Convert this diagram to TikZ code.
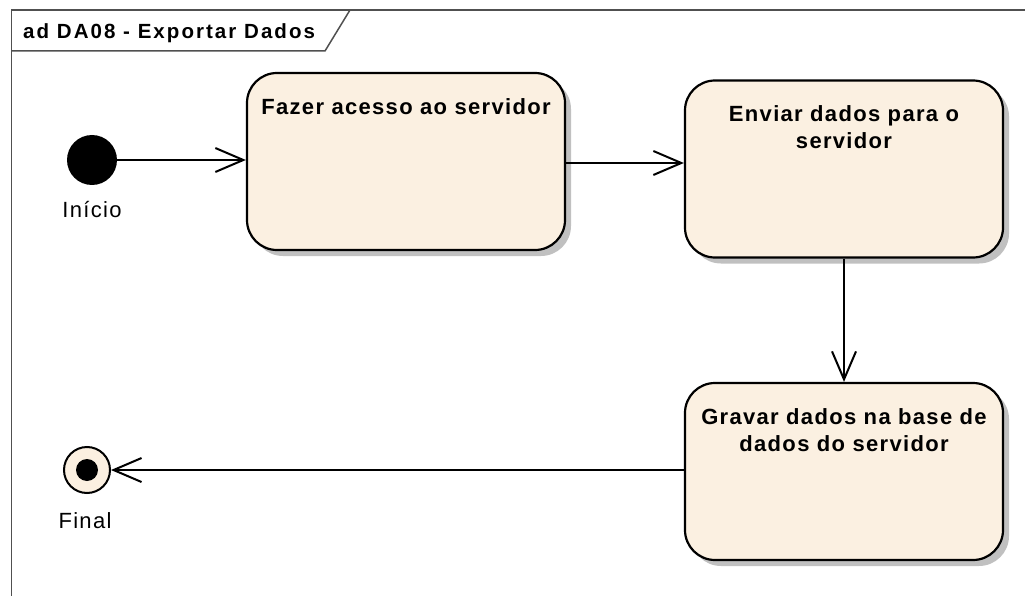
\documentclass[tikz,border=0pt]{standalone}
\usepackage{fontspec}
\setmainfont{Liberation Sans}
\newfontfamily\boxfont[LetterSpace=6]{Liberation Sans}
\newfontfamily\titlefont[LetterSpace=10]{Liberation Sans}
\usetikzlibrary{arrows.meta,shadows,calc}
\definecolor{cream}{RGB}{251,240,225}
\definecolor{shadowgray}{RGB}{192,192,192}
\definecolor{framec}{RGB}{80,80,80}
\begin{document}
\begin{tikzpicture}[x=1pt,y=-1pt,
  activity/.style={draw=black, line width=2.2pt, fill=cream, rounded corners=30pt,
    minimum width=318pt, minimum height=177pt, inner sep=0pt,
    drop shadow={shadow xshift=6pt, shadow yshift=-6pt, fill=shadowgray, opacity=1}},
  boxtext/.style={font=\boxfont\bfseries\fontsize{22}{27}\selectfont, align=center, anchor=north, inner sep=0pt},
  plainlabel/.style={font=\boxfont\fontsize{22}{26}\selectfont, anchor=base, inner sep=0pt},
  flow/.style={line width=2pt, -{Straight Barb[length=28pt,width=24pt]}},
  framestyle/.style={draw=framec, line width=1.5pt}
]
\useasboundingbox (0,0) rectangle (1025,596);
% frame
\draw[framestyle] (11.5,596) -- (11.5,10) -- (1025,10);
\draw[framestyle] (11.5,51) -- (325,51) -- (350,10);
\node[font=\titlefont\bfseries\fontsize{20.5}{24}\selectfont, anchor=base west, inner sep=0pt] (title) at (23,39) {ad DA08 - Exportar Dados};
% activities
\node[activity] (b1) at (406,161.5) {};
\node[activity] (b2) at (844,169) {};
\node[activity] (b3) at (844,471.5) {};
\node[boxtext] (b1t) at ($(b1.north)+(0,26)$) {Fazer acesso ao servidor};
\node[boxtext] (b2t) at ($(b2.north)+(0,26)$) {Enviar dados para o\\servidor};
\node[boxtext] (b3t) at ($(b3.north)+(0,26)$) {Gravar dados na base de\\dados do servidor};
% initial / final
\node[circle, fill=black, minimum size=50pt, inner sep=0pt] (init) at (92,160) {};
\node[plainlabel] (initl) at (92,218) {Início};
\node[circle, draw=black, line width=2pt, fill=cream, minimum size=46pt, inner sep=0pt] (fin) at (87,470) {};
\node[circle, fill=black, minimum size=22pt, inner sep=0pt] (find) at (fin) {};
\node[plainlabel] (finl) at (85,528) {Final};
% flows
\draw[flow] (init) -- (init -| b1.west);
\draw[flow] (b1.east |- 0,163) -- (b2.west |- 0,163);
\draw[flow] (b2.south) -- (b3.north);
\draw[flow] (b3.west |- fin) -- (fin);
\end{tikzpicture}
\end{document}
